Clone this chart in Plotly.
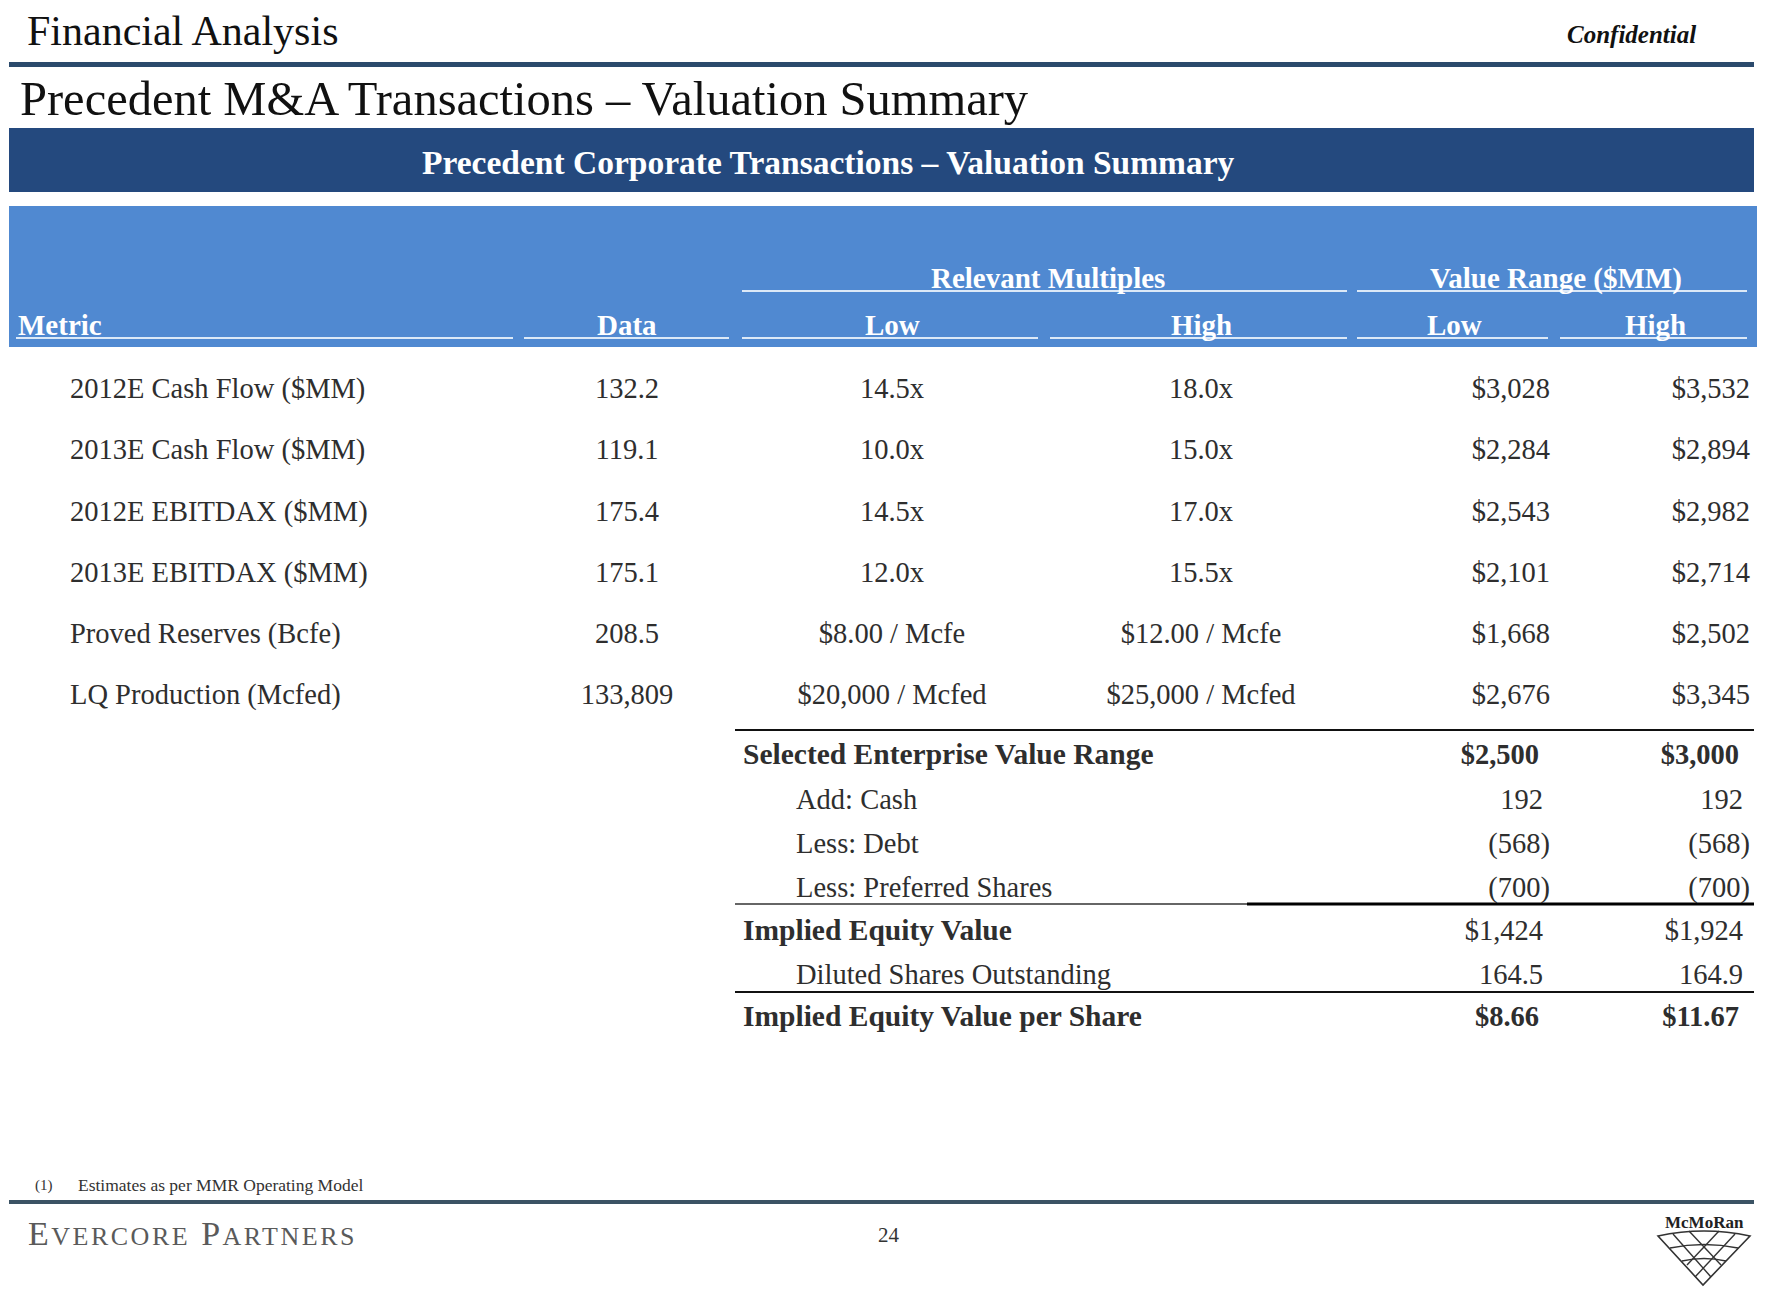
import plotly.graph_objects as go

# ---------------- data ----------------
metrics = ["2012E Cash Flow ($MM)", "2013E Cash Flow ($MM)", "2012E EBITDAX ($MM)",
           "2013E EBITDAX ($MM)", "Proved Reserves (Bcfe)", "LQ Production (Mcfed)"]
data_values = ["132.2", "119.1", "175.4", "175.1", "208.5", "133,809"]
multiple_low = ["14.5x", "10.0x", "14.5x", "12.0x", "$8.00 / Mcfe", "$20,000 / Mcfed"]
multiple_high = ["18.0x", "15.0x", "17.0x", "15.5x", "$12.00 / Mcfe", "$25,000 / Mcfed"]
value_low = ["$3,028", "$2,284", "$2,543", "$2,101", "$1,668", "$2,676"]
value_high = ["$3,532", "$2,894", "$2,982", "$2,714", "$2,502", "$3,345"]

summary_labels = ["Selected Enterprise Value Range", "Add: Cash", "Less: Debt",
                  "Less: Preferred Shares", "Implied Equity Value",
                  "Diluted Shares Outstanding", "Implied Equity Value per Share"]
summary_low = ["$2,500", "192", "(568)", "(700)", "$1,424", "164.5", "$8.66"]
summary_high = ["$3,000", "192", "(568)", "(700)", "$1,924", "164.9", "$11.67"]
summary_label_bold = [True, False, False, False, True, False, True]
summary_value_bold = [True, False, False, False, False, False, True]

header_cols = ["Metric", "Data", "Low", "High", "Low", "High"]
group_headers = ["Relevant Multiples", "Value Range ($MM)"]

# ---------------- layout / style ----------------
W, H = 1778, 1300
PAGE_MARGIN = 8  # default body margin of the html page
SERIF = "Liberation Serif, Times New Roman, serif"
TXT = "#2e2e2e"
NAVY = "#24497e"
LIGHT = "#5089d1"
RULE = "#2b4a6c"

row_y = [391 + i * 61.2 for i in range(len(metrics))]
summary_y = [757, 802, 846, 890, 933, 977, 1019]

fig = go.Figure()


def add_text(xs, ys, texts, pos, size, color=TXT, family=SERIF):
    fig.add_trace(go.Scatter(
        x=xs, y=ys, text=texts, mode="text", textposition=pos,
        textfont=dict(size=size, color=color, family=family),
        hoverinfo="skip", showlegend=False, cliponaxis=False))


# main table columns
n = len(metrics)
add_text([70] * n, row_y, metrics, "middle right", 28.5)
add_text([627] * n, row_y, data_values, "middle center", 28.5)
add_text([892] * n, row_y, multiple_low, "middle center", 28.5)
add_text([1201] * n, row_y, multiple_high, "middle center", 28.5)
add_text([1550] * n, row_y, value_low, "middle left", 28.5)
add_text([1750] * n, row_y, value_high, "middle left", 28.5)

# summary block
lab_x = [743 if b else 796 for b in summary_label_bold]
lab_t = [f"<b>{t}</b>" if b else t for t, b in zip(summary_labels, summary_label_bold)]
lab_s = [29.5 if b else 28.5 for b in summary_label_bold]
fig.add_trace(go.Scatter(
    x=lab_x, y=summary_y, text=lab_t, mode="text", textposition="middle right",
    textfont=dict(size=lab_s, color=TXT, family=SERIF),
    hoverinfo="skip", showlegend=False, cliponaxis=False))


def val_pos(vals, right):
    xs, ts = [], []
    for v, b in zip(vals, summary_value_bold):
        if b:
            xs.append(right - 11)
            ts.append(f"<b>{v}</b>")
        elif v.endswith(")"):
            xs.append(right)
            ts.append(v)
        else:
            xs.append(right - 7)
            ts.append(v)
    return xs, ts


xl, tl = val_pos(summary_low, 1550)
xh, th = val_pos(summary_high, 1750)
add_text(xl, summary_y, tl, "middle left", 28.5)
add_text(xh, summary_y, th, "middle left", 28.5)

shapes = []
# top rule and bottom rule
shapes.append(dict(type="rect", x0=9, x1=1754, y0=62, y1=67, fillcolor=RULE, line_width=0))
shapes.append(dict(type="rect", x0=9, x1=1754, y0=1200, y1=1204, fillcolor="#3b5364", line_width=0))
# dark band
shapes.append(dict(type="rect", x0=9, x1=1754, y0=128, y1=192, fillcolor=NAVY, line_width=0))
# light header band
shapes.append(dict(type="rect", x0=9, x1=1757, y0=206, y1=347, fillcolor=LIGHT, line_width=0))

UL = "#dce9f7"
col_spans = [(16, 513), (524, 729), (742, 1038), (1050, 1347), (1357, 1548), (1560, 1747)]
for a, b in col_spans:
    shapes.append(dict(type="line", x0=a, x1=b, y0=338, y1=338, line=dict(color=UL, width=2)))
group_spans = [(742, 1347), (1357, 1747)]
for a, b in group_spans:
    shapes.append(dict(type="line", x0=a, x1=b, y0=291, y1=291, line=dict(color=UL, width=2)))

# summary rules
shapes.append(dict(type="line", x0=735, x1=1754, y0=730, y1=730, line=dict(color="#111", width=2)))
shapes.append(dict(type="line", x0=735, x1=1247, y0=904, y1=904, line=dict(color="#333", width=1.5)))
shapes.append(dict(type="line", x0=1247, x1=1754, y0=904, y1=904, line=dict(color="#000", width=3)))
shapes.append(dict(type="line", x0=735, x1=1754, y0=992, y1=992, line=dict(color="#111", width=2)))

# McMoRan logo (simple net motif)
LOGO = "#333"
shapes.append(dict(type="path", path="M 1658 1236 Q 1704 1226 1750 1236 L 1703 1285 Z",
                   line=dict(color=LOGO, width=1.6)))
for p in ["M 1670 1248 Q 1704 1241 1738 1248",
          "M 1682 1261 Q 1704 1256 1726 1261",
          "M 1673 1234 L 1711 1277",
          "M 1689 1231 L 1721 1265",
          "M 1735 1234 L 1695 1277",
          "M 1719 1231 L 1687 1265"]:
    shapes.append(dict(type="path", path=p, line=dict(color=LOGO, width=1.4)))

annotations = []


def ann(x, y, text, size, color=TXT, xanchor="left", family=SERIF):
    annotations.append(dict(x=x, y=y, xref="x", yref="y", text=text, showarrow=False,
                            xanchor=xanchor, yanchor="middle",
                            font=dict(size=size, color=color, family=family)))


ann(25, 31, "Financial Analysis", 42, "#111")
ann(1698, 34, "<b><i>Confidential</i></b>", 25, "#111", xanchor="right")
ann(18, 98, "Precedent M&amp;A Transactions – Valuation Summary", 48.5, "#111")
ann(828, 162, "<b>Precedent Corporate Transactions – Valuation Summary</b>", 33.5, "white", xanchor="center")

header_x = [16, 627, 892, 1201, 1454, 1655]
header_anchor = ["left", "center", "center", "center", "center", "center"]
for hx, ha, ht in zip(header_x, header_anchor, header_cols):
    ann(hx, 325, f"<b>{ht}</b>", 29, "white", xanchor=ha)
for gx, gt in zip([1048, 1556], group_headers):
    ann(gx, 278, f"<b>{gt}</b>", 29, "white", xanchor="center")

ann(33, 1185, "(1)", 15, "#333")
ann(76, 1185, "Estimates as per MMR Operating Model", 17.5, "#333")
ann(26, 1233,
    "<span style='letter-spacing:2.5px'>E<span style='font-size:26px'>VERCORE</span> "
    "P<span style='font-size:26px'>ARTNERS</span></span>",
    34, "#5a5a5a")
ann(889, 1235, "24", 21, "#333", xanchor="center")
ann(1704, 1222, "<b>McMoRan</b>", 17, "#222", xanchor="center")

fig.update_layout(
    width=W - PAGE_MARGIN, height=H - PAGE_MARGIN, margin=dict(l=0, r=0, t=0, b=0),
    paper_bgcolor="white", plot_bgcolor="white", showlegend=False,
    xaxis=dict(range=[PAGE_MARGIN, W], visible=False, fixedrange=True),
    yaxis=dict(range=[H, PAGE_MARGIN], visible=False, fixedrange=True),
    shapes=shapes, annotations=annotations,
)

fig.write_html("out.html")
